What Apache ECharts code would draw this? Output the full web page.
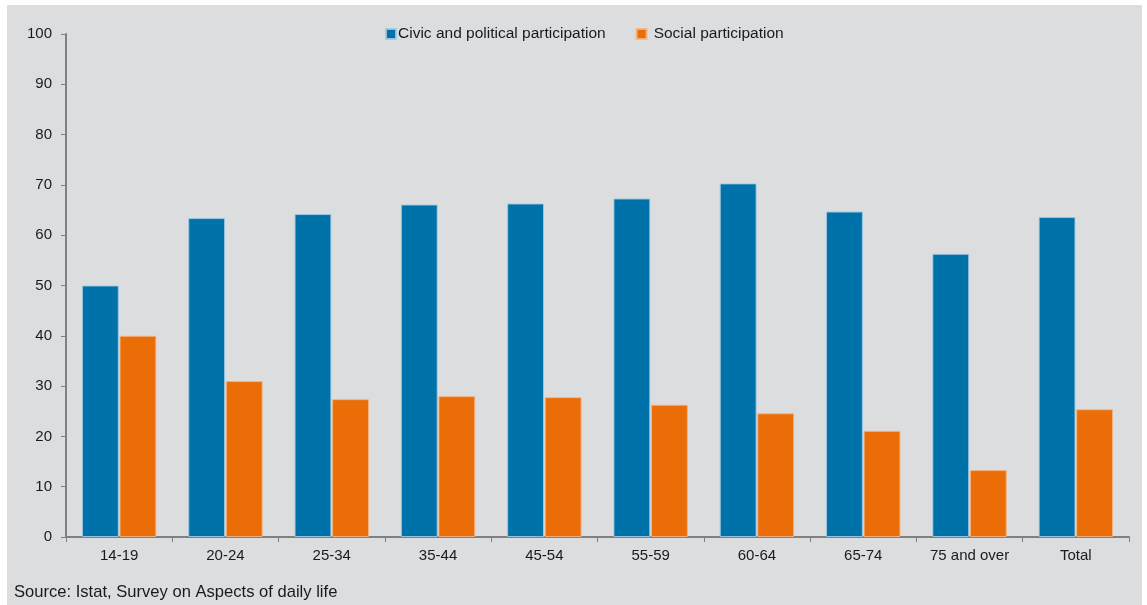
<!DOCTYPE html>
<html>
<head>
<meta charset="utf-8">
<title>Civic, political and social participation by age</title>
<script src="https://cdn.jsdelivr.net/npm/echarts@6/dist/echarts.min.js"></script>
<style>
  html, body { margin: 0; padding: 0; background: #ffffff; }
  #chart { width: 1147px; height: 605px; }
</style>
</head>
<body>
<div id="chart"></div>
<script>
// Age groups on the x axis
const categories = ['14-19', '20-24', '25-34', '35-44', '45-54', '55-59', '60-64', '65-74', '75 and over', 'Total'];

// Share of people (%) by type of participation
const civicPolitical = [50.0, 63.4, 64.2, 66.1, 66.3, 67.3, 70.3, 64.7, 56.3, 63.6];
const socialParticipation = [40.0, 31.0, 27.4, 28.0, 27.8, 26.3, 24.6, 21.1, 13.3, 25.4];

const seriesNames = ['Civic and political participation', 'Social participation'];
const sourceNote = 'Source: Istat, Survey on Aspects of daily life';

const chart = echarts.init(document.getElementById('chart'), null, { renderer: 'canvas' });

const textColor = '#1a1a1a';
const axisGrey = '#808080';
const font = 'Liberation Sans, Arial, sans-serif';

chart.setOption({
  backgroundColor: '#ffffff',
  animation: false,
  textStyle: { fontFamily: font },
  graphic: [
    {
      type: 'rect',
      z: -10,
      silent: true,
      shape: { x: 7, y: 5, width: 1135, height: 600 },
      style: { fill: '#dcdddf' }
    },
    {
      type: 'text',
      x: 14,
      y: 584,
      scaleX: 0.975,
      silent: true,
      style: {
        text: sourceNote,
        fill: textColor,
        font: '17px "Liberation Sans", Arial, sans-serif'
      }
    }
  ],
  legend: {
    top: 21,
    left: 380,
    itemWidth: 10,
    itemHeight: 10,
    itemGap: 30,
    icon: 'rect',
    textStyle: { color: textColor, fontSize: 15.5, fontFamily: font },
    data: [
      { name: seriesNames[0], textStyle: { padding: [0, 0, 0, -3] } },
      { name: seriesNames[1], textStyle: { padding: [0, 0, 0, 2] } }
    ]
  },
  grid: {
    left: 66,
    right: 18,
    top: 34,
    bottom: 68,
    containLabel: false
  },
  xAxis: {
    type: 'category',
    data: categories,
    axisLine: { lineStyle: { color: axisGrey, width: 2 } },
    axisTick: { show: true, length: 5, lineStyle: { color: axisGrey, width: 1 } },
    axisLabel: { color: textColor, fontSize: 15, margin: 11 },
    splitLine: { show: false }
  },
  yAxis: {
    type: 'value',
    min: 0,
    max: 100,
    interval: 10,
    axisLine: { show: true, lineStyle: { color: axisGrey, width: 2 } },
    axisTick: { show: true, length: 5, lineStyle: { color: axisGrey, width: 1 } },
    axisLabel: { color: textColor, fontSize: 15, margin: 14 },
    splitLine: { show: false }
  },
  series: [
    {
      name: seriesNames[0],
      type: 'bar',
      data: civicPolitical,
      barGap: '2%',
      barCategoryGap: '30%',
      itemStyle: { color: '#0072aa', borderColor: 'rgba(160,200,225,0.9)', borderWidth: 1 }
    },
    {
      name: seriesNames[1],
      type: 'bar',
      data: socialParticipation,
      itemStyle: { color: '#eb6d08', borderColor: 'rgba(245,180,130,0.9)', borderWidth: 1 }
    }
  ]
});
</script>
</body>
</html>
